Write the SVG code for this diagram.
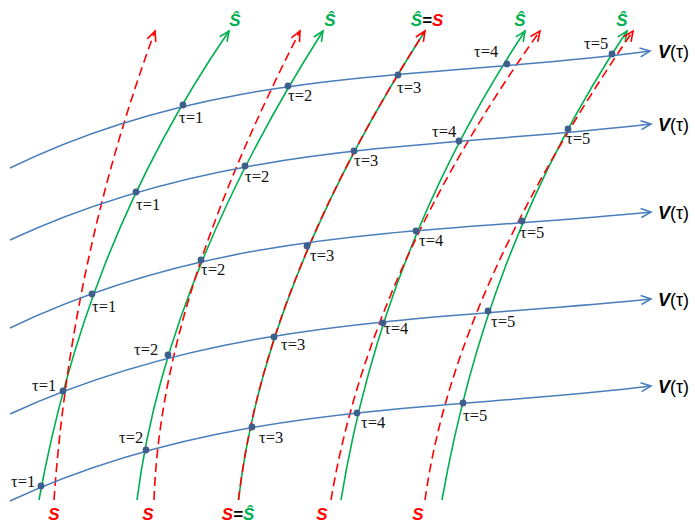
<svg xmlns="http://www.w3.org/2000/svg" width="695" height="528" viewBox="0 0 695 528">
<defs>
<marker id="ab" markerUnits="userSpaceOnUse" markerWidth="24" markerHeight="24" refX="0" refY="0" orient="auto" overflow="visible"><path d="M-10,-4.5 L0,0 L-10,4.5" fill="none" stroke="#4A7EBB" stroke-width="1.6"/></marker>
<marker id="ag" markerUnits="userSpaceOnUse" markerWidth="24" markerHeight="24" refX="0" refY="0" orient="auto" overflow="visible"><path d="M-10,-4.5 L0,0 L-10,4.5" fill="none" stroke="#00B050" stroke-width="1.6"/></marker>
<marker id="ar" markerUnits="userSpaceOnUse" markerWidth="24" markerHeight="24" refX="0" refY="0" orient="auto" overflow="visible"><path d="M-10,-4.5 L0,0 L-10,4.5" fill="none" stroke="#FF0000" stroke-width="1.6"/></marker>
</defs>
<style>
.b{fill:none;stroke:#4A7EBB;stroke-width:1.5;marker-end:url(#ab)}
.g{fill:none;stroke:#00B050;stroke-width:1.6}
.ga{marker-end:url(#ag)}
.r{fill:none;stroke:#FF0000;stroke-width:1.6;stroke-dasharray:9,5;marker-end:url(#ar)}
.d{fill:#3E5E8C}
.t{font-family:"Liberation Serif","Times New Roman",serif;font-size:16.5px;fill:#111}
.lab{font-family:"Liberation Sans",Arial,sans-serif;font-size:17px;font-weight:bold;font-style:italic;text-anchor:middle}
.gr{fill:#00B050}
.rd{fill:#FF0000}
.bk{fill:#000}
.v{font-family:"Liberation Sans",Arial,sans-serif;font-size:18px;fill:#000}
</style>
<g id="connectors">
<g id="s-lines">
<path class="g ga" d="M39,500 C67.4,343.7 122,187.3 229,31"/>
<path class="g ga" d="M137,500 C156.7,343.7 223.7,187.3 323,31"/>
<path class="g" d="M238.5,500 C256.6,343.7 324.7,187.3 425,31"/>
<path class="g ga" d="M341,500 C366.5,343.7 421.4,187.3 525,31"/>
<path class="g ga" d="M442,500 C469.6,343.7 522.9,187.3 627,31"/>
<path class="r" d="M54,500 C65,343.7 97.5,187.3 155,31"/>
<path class="r" d="M154,500 C159.6,343.7 220.6,187.3 300,31"/>
<path class="r" d="M238.5,500 C256.6,343.7 324.7,187.3 425,31"/>
<path class="r" d="M331,500 C356.9,343.7 428.5,187.3 540,31"/>
<path class="r" d="M425,500 C446.6,343.7 526.2,187.3 633,31"/>
</g>
<g id="v-curves">
<path class="b" d="M10,168 C223.3,63.5 436.7,80.25 650,51"/>
<path class="b" d="M10,240 C223.3,140.3 436.7,149.2 651,124"/>
<path class="b" d="M10,328 C223.3,225.1 436.7,234 651,212"/>
<path class="b" d="M10,414 C223.3,316.1 436.7,321.1 651,299"/>
<path class="b" d="M10,501 C223.3,401.7 436.7,412.4 651,386"/>
</g>
</g>
<g id="row1">
<g id="p1-1"><circle class="d" cx="183" cy="105" r="3.4"/><text class="t" x="179" y="123">τ=1</text></g>
<g id="p1-2"><circle class="d" cx="288" cy="86" r="3.4"/><text class="t" x="288" y="101">τ=2</text></g>
<g id="p1-3"><circle class="d" cx="398" cy="75" r="3.4"/><text class="t" x="397" y="93">τ=3</text></g>
<g id="p1-4"><circle class="d" cx="507" cy="64" r="3.4"/><text class="t" x="474" y="57">τ=4</text></g>
<g id="p1-5"><circle class="d" cx="612" cy="54" r="3.4"/><text class="t" x="584" y="49">τ=5</text></g>
</g>
<g id="row2">
<g id="p2-1"><circle class="d" cx="136" cy="192" r="3.4"/><text class="t" x="136" y="210">τ=1</text></g>
<g id="p2-2"><circle class="d" cx="245" cy="166" r="3.4"/><text class="t" x="245" y="182">τ=2</text></g>
<g id="p2-3"><circle class="d" cx="354" cy="151" r="3.4"/><text class="t" x="354" y="166">τ=3</text></g>
<g id="p2-4"><circle class="d" cx="459" cy="141" r="3.4"/><text class="t" x="432" y="137">τ=4</text></g>
<g id="p2-5"><circle class="d" cx="568" cy="129" r="3.4"/><text class="t" x="566" y="144">τ=5</text></g>
</g>
<g id="row3">
<g id="p3-1"><circle class="d" cx="92" cy="294" r="3.4"/><text class="t" x="92" y="312">τ=1</text></g>
<g id="p3-2"><circle class="d" cx="201" cy="260" r="3.4"/><text class="t" x="201" y="275">τ=2</text></g>
<g id="p3-3"><circle class="d" cx="307" cy="246" r="3.4"/><text class="t" x="310" y="261">τ=3</text></g>
<g id="p3-4"><circle class="d" cx="416" cy="231" r="3.4"/><text class="t" x="419" y="246">τ=4</text></g>
<g id="p3-5"><circle class="d" cx="522" cy="221" r="3.4"/><text class="t" x="520" y="238">τ=5</text></g>
</g>
<g id="row4">
<g id="p4-1"><circle class="d" cx="63" cy="391" r="3.4"/><text class="t" x="32" y="391">τ=1</text></g>
<g id="p4-2"><circle class="d" cx="168" cy="355" r="3.4"/><text class="t" x="134" y="355">τ=2</text></g>
<g id="p4-3"><circle class="d" cx="274" cy="337" r="3.4"/><text class="t" x="281" y="350">τ=3</text></g>
<g id="p4-4"><circle class="d" cx="383" cy="323" r="3.4"/><text class="t" x="384" y="334">τ=4</text></g>
<g id="p4-5"><circle class="d" cx="488" cy="311" r="3.4"/><text class="t" x="491" y="327">τ=5</text></g>
</g>
<g id="row5">
<g id="p5-1"><circle class="d" cx="41" cy="486" r="3.4"/><text class="t" x="11" y="487">τ=1</text></g>
<g id="p5-2"><circle class="d" cx="146" cy="450" r="3.4"/><text class="t" x="119" y="443">τ=2</text></g>
<g id="p5-3"><circle class="d" cx="252" cy="427" r="3.4"/><text class="t" x="259" y="443">τ=3</text></g>
<g id="p5-4"><circle class="d" cx="357" cy="413" r="3.4"/><text class="t" x="361" y="428">τ=4</text></g>
<g id="p5-5"><circle class="d" cx="463" cy="403" r="3.4"/><text class="t" x="463" y="421">τ=5</text></g>
</g>
<g id="top-labels">
<text class="lab gr" x="235" y="26">Ŝ</text>
<text class="lab gr" x="330" y="26">Ŝ</text>
<text class="lab" x="427" y="26"><tspan class="gr">Ŝ</tspan><tspan class="bk">=</tspan><tspan class="rd">S</tspan></text>
<text class="lab gr" x="520" y="26">Ŝ</text>
<text class="lab gr" x="622" y="26">Ŝ</text>
</g>
<g id="bottom-labels">
<text class="lab rd" x="54" y="520">S</text>
<text class="lab rd" x="148" y="520">S</text>
<text class="lab" x="238" y="520"><tspan class="rd">S</tspan><tspan class="bk">=</tspan><tspan class="gr">Ŝ</tspan></text>
<text class="lab rd" x="322" y="520">S</text>
<text class="lab rd" x="418" y="520">S</text>
</g>
<g id="v-labels">
<text class="v" x="658" y="58"><tspan font-weight="bold" font-style="italic">V</tspan>(τ)</text>
<text class="v" x="658" y="131"><tspan font-weight="bold" font-style="italic">V</tspan>(τ)</text>
<text class="v" x="658" y="219"><tspan font-weight="bold" font-style="italic">V</tspan>(τ)</text>
<text class="v" x="658" y="306"><tspan font-weight="bold" font-style="italic">V</tspan>(τ)</text>
<text class="v" x="658" y="393"><tspan font-weight="bold" font-style="italic">V</tspan>(τ)</text>
</g>
</svg>
